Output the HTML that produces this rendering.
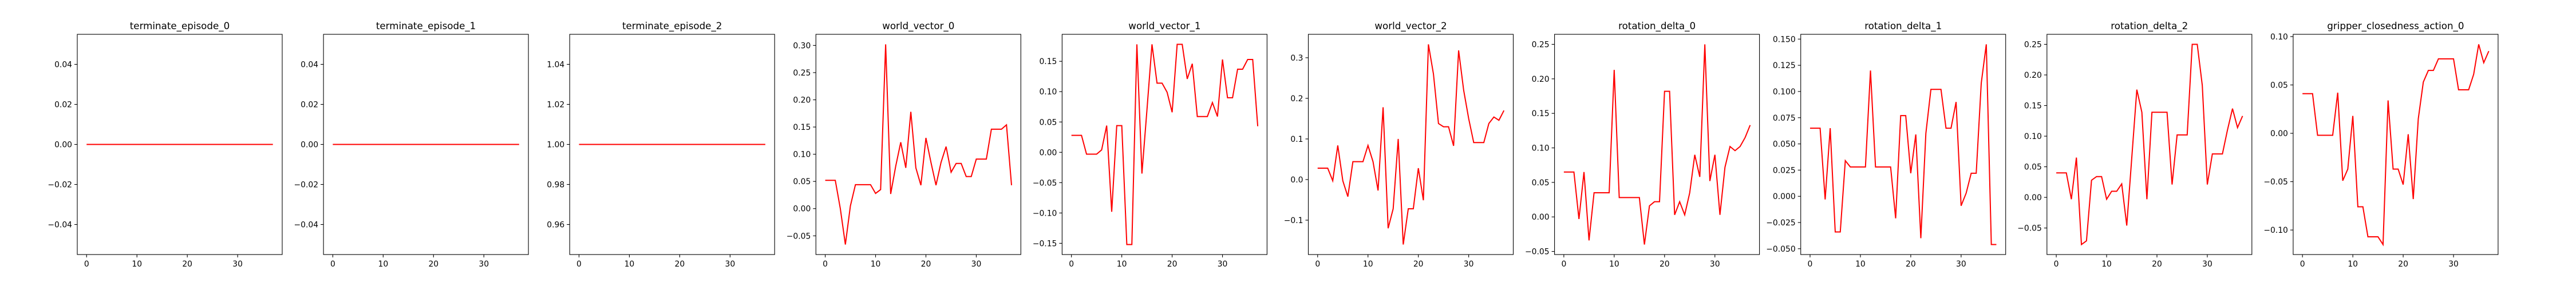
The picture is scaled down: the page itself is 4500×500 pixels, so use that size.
<!DOCTYPE html>
<html><head><meta charset="utf-8">
<style>
html,body{margin:0;padding:0;background:#fff;}
svg{display:block;font-family:"DejaVu Sans","Liberation Sans",sans-serif;}
</style></head>
<body>
<svg id="chart" width="4500" height="500" viewBox="0 0 4500 500" xmlns="http://www.w3.org/2000/svg"></svg>
<script>
const titles = ["terminate_episode_0","terminate_episode_1","terminate_episode_2","world_vector_0","world_vector_1","world_vector_2","rotation_delta_0","rotation_delta_1","rotation_delta_2","gripper_closedness_action_0"];
const terminate0 = [0,0,0,0,0,0,0,0,0,0,0,0,0,0,0,0,0,0,0,0,0,0,0,0,0,0,0,0,0,0,0,0,0,0,0,0,0,0];
const terminate1 = [0,0,0,0,0,0,0,0,0,0,0,0,0,0,0,0,0,0,0,0,0,0,0,0,0,0,0,0,0,0,0,0,0,0,0,0,0,0];
const terminate2 = [1,1,1,1,1,1,1,1,1,1,1,1,1,1,1,1,1,1,1,1,1,1,1,1,1,1,1,1,1,1,1,1,1,1,1,1,1,1];
const worldVector0 = [0.052,0.052,0.052,0.0,-0.066,0.005,0.044,0.044,0.044,0.044,0.028,0.035,0.302,0.027,0.078,0.122,0.075,0.178,0.075,0.043,0.13,0.085,0.043,0.085,0.114,0.067,0.083,0.083,0.059,0.059,0.091,0.091,0.091,0.146,0.146,0.146,0.154,0.043];
const worldVector1 = [0.028,0.028,0.028,-0.003,-0.003,-0.003,0.004,0.044,-0.098,0.044,0.044,-0.152,-0.152,0.178,-0.035,0.07,0.178,0.114,0.114,0.099,0.066,0.178,0.178,0.121,0.146,0.059,0.059,0.059,0.082,0.059,0.153,0.09,0.09,0.137,0.137,0.153,0.153,0.043];
const worldVector2 = [0.028,0.028,0.028,-0.003,0.084,-0.003,-0.042,0.044,0.044,0.044,0.084,0.044,-0.027,0.178,-0.12,-0.072,0.1,-0.16,-0.072,-0.072,0.028,-0.051,0.333,0.26,0.138,0.13,0.13,0.083,0.318,0.22,0.15,0.091,0.091,0.091,0.138,0.154,0.146,0.17];
const rotationDelta0 = [0.065,0.065,0.065,-0.003,0.065,-0.034,0.035,0.035,0.035,0.035,0.213,0.028,0.028,0.028,0.028,0.028,-0.04,0.016,0.022,0.022,0.182,0.182,0.003,0.022,0.003,0.035,0.09,0.058,0.25,0.052,0.09,0.003,0.072,0.102,0.096,0.102,0.115,0.133];
const rotationDelta1 = [0.065,0.065,0.065,-0.003,0.065,-0.034,-0.034,0.034,0.028,0.028,0.028,0.028,0.12,0.028,0.028,0.028,0.028,-0.021,0.077,0.077,0.022,0.059,-0.04,0.06,0.102,0.102,0.102,0.065,0.065,0.09,-0.009,0.003,0.022,0.022,0.108,0.145,-0.046,-0.046];
const rotationDelta2 = [0.04,0.04,0.04,-0.003,0.065,-0.077,-0.071,0.028,0.034,0.034,-0.003,0.01,0.01,0.022,-0.046,0.065,0.176,0.139,-0.003,0.139,0.139,0.139,0.139,0.021,0.102,0.102,0.102,0.25,0.25,0.183,0.021,0.071,0.071,0.071,0.11,0.145,0.114,0.133];
const gripper0 = [0.041,0.041,0.041,-0.002,-0.002,-0.002,-0.002,0.042,-0.049,-0.037,0.018,-0.076,-0.076,-0.107,-0.107,-0.107,-0.115,0.034,-0.037,-0.037,-0.053,-0.001,-0.068,0.015,0.053,0.065,0.065,0.077,0.077,0.077,0.077,0.045,0.045,0.045,0.061,0.092,0.073,0.085];
const yTicks0 = [-0.04,-0.02,0,0.02,0.04];
const yTicks2 = [0.96,0.98,1.0,1.02,1.04];
const yTicksWV0 = [-0.05,0,0.05,0.1,0.15,0.2,0.25,0.3];
const yTicksWV1 = [-0.15,-0.1,-0.05,0,0.05,0.1,0.15];
const yTicksWV2 = [-0.1,0,0.1,0.2,0.3];
const yTicksRD0 = [-0.05,0,0.05,0.1,0.15,0.2,0.25];
const yTicksRD1 = [-0.05,-0.025,0,0.025,0.05,0.075,0.1,0.125,0.15];
const yTicksRD2 = [-0.05,0,0.05,0.1,0.15,0.2,0.25];
const yTicksG = [-0.1,-0.05,0,0.05,0.1];
const xTicks = [0,10,20,30];
const yDecimals = [2,2,2,2,2,1,2,3,2,2];

const series = [terminate0,terminate1,terminate2,worldVector0,worldVector1,worldVector2,rotationDelta0,rotationDelta1,rotationDelta2,gripper0];
const ticks = [yTicks0,yTicks0,yTicks2,yTicksWV0,yTicksWV1,yTicksWV2,yTicksRD0,yTicksRD1,yTicksRD2,yTicksG];

const NS = "http://www.w3.org/2000/svg";
const svg = document.getElementById('chart');
function mk(tag, attrs, parent){const e=document.createElementNS(NS,tag);for(const k in attrs)e.setAttribute(k,attrs[k]);parent.appendChild(e);return e;}
function fmt(v,d){const s=Math.abs(v).toFixed(d);return (v<-1e-9?"\u2212":"")+s;}

const L0=135, STEP=430.1, W=358, T=60, B=445;
series.forEach((data,i)=>{
  const left=L0+STEP*i, right=left+W;
  let mn=Math.min(...data), mx=Math.max(...data);
  if(mx-mn<1e-12){mn-=0.05;mx+=0.05;}
  const pad=(mx-mn)*0.05; const y0=mn-pad, y1=mx+pad;
  const x0=-0.05*(data.length-1), x1=(data.length-1)*1.05;
  const sx=v=>left+(v-x0)/(x1-x0)*W;
  const sy=v=>B-(v-y0)/(y1-y0)*(B-T);
  const g=mk('g',{},svg);
  
  
  const title=mk('text',{x:left+W/2,y:51,'text-anchor':'middle','font-size':'16.7',fill:'#000'},g);
  title.textContent=titles[i];
  
  
  // line
  const pts=data.map((v,k)=>sx(k).toFixed(2)+','+sy(v).toFixed(2)).join(' ');
  const line=mk('polyline',{points:pts,fill:'none',stroke:'#ff0000','stroke-width':'2','stroke-linejoin':'miter'},g);
  
  
  // frame
  const fr=mk('rect',{x:left,y:T,width:W,height:B-T,fill:'none',stroke:'#000','stroke-width':'1.1'},g);
  
  
  // x ticks
  xTicks.forEach(t=>{
    const x=sx(t);
    const tk=mk('line',{x1:x,x2:x,y1:B,y2:B+5,stroke:'#000','stroke-width':'1.1'},g);
    
    
    const tl=mk('text',{x:x,y:B+21,'text-anchor':'middle','font-size':'13.9',fill:'#000'},g);
    tl.textContent=String(t);
    
    
  });
  ticks[i].forEach(t=>{
    const y=sy(t);
    const tk=mk('line',{x1:left-5,x2:left,y1:y,y2:y,stroke:'#000','stroke-width':'1.1'},g);
    
    
    const tl=mk('text',{x:left-9,y:y+5,'text-anchor':'end','font-size':'13.9',fill:'#000'},g);
    tl.textContent=fmt(t,yDecimals[i]);
    
    
  });
});
</script>
</body></html>
